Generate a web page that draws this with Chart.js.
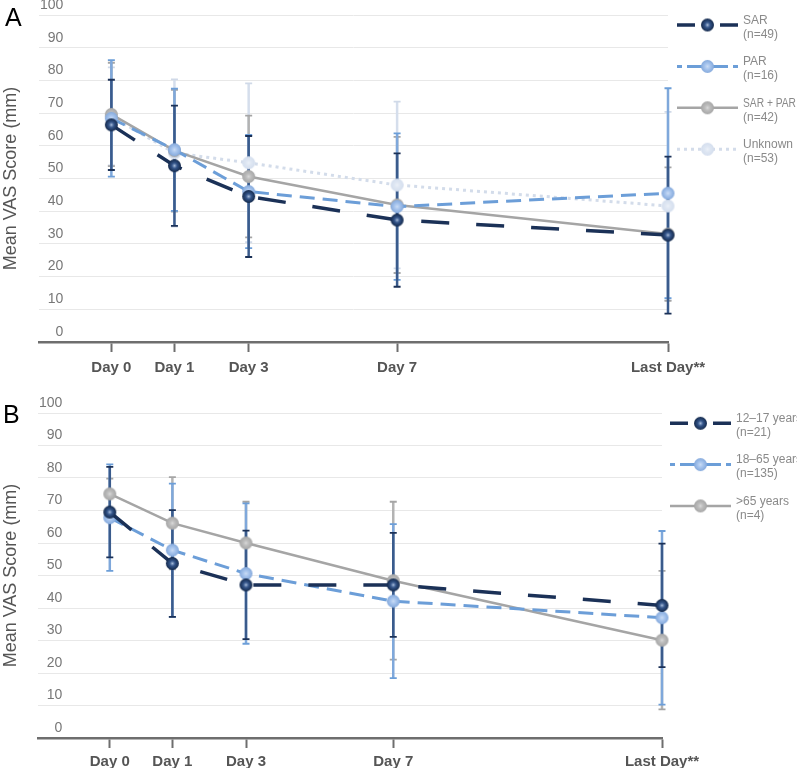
<!DOCTYPE html>
<html>
<head>
<meta charset="utf-8">
<title>Mean VAS Score</title>
<script src="https://cdn.jsdelivr.net/npm/chart.js@4"></script>
<style>
    body { margin: 0; background: #fff; }
    .panel { position: absolute; left: 0; width: 797px; height: 384px; }
</style>
</head>
<body>
<div style="position:relative;width:797px;height:768px;">
    <div class="panel" style="top:0;"><canvas id="chartA" width="797" height="384"></canvas></div>
    <div class="panel" style="top:384px;"><canvas id="chartB" width="797" height="384"></canvas></div>
</div>
<script>
// x axis: time points and where they sit on the axis
const dayLabels = ['Day 0', 'Day 1', 'Day 3', 'Day 7', 'Last Day**'];
const dayPositions = [0, 1.7, 3.7, 7.7, 15];
const vasTicks = [0, 10, 20, 30, 40, 50, 60, 70, 80, 90, 100];

// Panel A - by rhinitis type
const namesA = ['SAR', 'PAR', 'SAR + PAR', 'Unknown'];
const countsA = ['(n=49)', '(n=16)', '(n=42)', '(n=53)'];
const sarMean = [66.4, 53.9, 44.5, 37.3, 32.7];
const sarSd = [13.8, 18.4, 18.5, 20.4, 24.0];
const parMean = [68.4, 58.8, 46.0, 41.4, 45.5];
const parSd = [17.8, 18.7, 17.3, 22.4, 32.1];
const sarParMean = [69.6, 58.5, 50.6, 41.9, 33.0];
const sarParSd = [15.8, 18.6, 18.6, 20.8, 20.4];
const unknownMean = [69.0, 57.8, 54.8, 48.0, 41.6];
const unknownSd = [15.0, 22.5, 24.3, 25.5, 28.8];

// Panel B - by age group
const namesB = ['12\u201317 years', '18\u201365 years', '>65 years'];
const countsB = ['(n=21)', '(n=135)', '(n=4)'];
const teenMean = [69.5, 53.7, 47.1, 47.1, 40.8];
const teenSd = [13.9, 16.4, 16.7, 16.0, 19.0];
const adultMean = [67.8, 57.8, 50.6, 42.1, 37.0];
const adultSd = [16.4, 20.5, 21.6, 23.7, 26.7];
const seniorMean = [75.1, 66.1, 60.0, 48.4, 30.1];
const seniorSd = [4.7, 14.2, 12.7, 24.3, 21.3];

const FONT = '"Liberation Sans", Arial, sans-serif';
Chart.defaults.font.family = FONT;

// small shaded ball used as the point marker
function makeBall(r, edge, body, glow) {
    const c = document.createElement('canvas');
    c.width = c.height = Math.ceil(r * 2 + 2);
    const g = c.getContext('2d');
    const cx = c.width / 2;
    const grad = g.createRadialGradient(cx, cx, 0, cx, cx, r);
    grad.addColorStop(0, glow);
    grad.addColorStop(0.4, body);
    grad.addColorStop(1, edge);
    g.fillStyle = grad;
    g.beginPath();
    g.arc(cx, cx, r, 0, Math.PI * 2);
    g.fill();
    return c;
}

const seriesStyles = {
    dark: { line: '#1b3157', width: 3.5, dash: [28, 27], legendDash: [18, 25], err: '#3a5b8c', cap: '#1b3157',
            ball: makeBall(6.5, '#13284a', '#34558a', '#a7bcdb') },
    blue: { line: '#6c9ed8', width: 3, dash: [15, 8], legendDash: [5, 5, 41, 5, 5], err: '#7fa8db', cap: '#6c9ed8',
            ball: makeBall(6.5, '#84a9dc', '#a9c6ee', '#cadcf5') },
    grey: { line: '#a5a5a5', width: 2.5, dash: [], legendDash: [], err: '#b3b3b3', cap: '#a5a5a5',
            ball: makeBall(6.5, '#a6a6a6', '#bdbdbd', '#d9d9d9') },
    pale: { line: '#d3dcea', width: 3, dash: [3, 4], legendDash: [3, 4], err: '#d5deec', cap: '#d0d9e8',
            ball: makeBall(6.5, '#d4deee', '#dfe7f3', '#ebf0f8') }
};

function buildDatasets(names, counts, means, sds, styles) {
    return names.map((name, i) => {
        const st = seriesStyles[styles[i]];
        return {
            label: name,
            count: counts[i],
            data: dayPositions.map((x, j) => ({ x: x, y: means[i][j] })),
            errors: sds[i],
            borderColor: st.line,
            borderWidth: st.width,
            borderDash: st.dash,
            legendDash: st.legendDash,
            errColor: st.err,
            capColor: st.cap,
            pointStyle: st.ball,
            pointRadius: 6.5,
            clip: false,
            tension: 0,
            fill: false
        };
    });
}

// error bars drawn under the lines, back series first
const errorBars = {
    id: 'errorBars',
    beforeDatasetsDraw(chart) {
        const ctx = chart.ctx;
        const xs = chart.scales.x, ys = chart.scales.y;
        for (let i = chart.data.datasets.length - 1; i >= 0; i--) {
            const ds = chart.data.datasets[i];
            ds.data.forEach((pt, j) => {
                const px = xs.getPixelForValue(pt.x);
                const top = ys.getPixelForValue(pt.y + ds.errors[j]);
                const bot = ys.getPixelForValue(pt.y - ds.errors[j]);
                ctx.save();
                ctx.strokeStyle = ds.errColor;
                ctx.lineWidth = 2.5;
                ctx.beginPath();
                ctx.moveTo(px, top);
                ctx.lineTo(px, bot);
                ctx.stroke();
                ctx.strokeStyle = ds.capColor;
                ctx.lineWidth = 1.8;
                ctx.beginPath();
                ctx.moveTo(px - 3.5, top); ctx.lineTo(px + 3.5, top);
                ctx.moveTo(px - 3.5, bot); ctx.lineTo(px + 3.5, bot);
                ctx.stroke();
                ctx.restore();
            });
        }
    }
};

// legend on the right: line sample with ball, name and n on two lines
const sideLegend = {
    id: 'sideLegend',
    afterDraw(chart, args, opts) {
        const ctx = chart.ctx;
        const area = chart.chartArea;
        const x0 = area.right + opts.gap;
        const tx = x0 + opts.sample + 5;
        chart.data.datasets.forEach((ds, i) => {
            const y = area.top + opts.firstY + i * opts.step;
            ctx.save();
            ctx.strokeStyle = ds.borderColor;
            ctx.lineWidth = ds.borderWidth;
            ctx.setLineDash(ds.legendDash);
            ctx.beginPath();
            ctx.moveTo(x0, y);
            ctx.lineTo(x0 + opts.sample, y);
            ctx.stroke();
            const img = ds.pointStyle;
            ctx.drawImage(img, x0 + opts.sample / 2 - img.width / 2, y - img.height / 2);
            ctx.fillStyle = '#8a8a8a';
            ctx.font = '12px ' + FONT;
            ctx.textBaseline = 'middle';
            ctx.textAlign = 'left';
            if (opts.fitText) {
                ctx.fillText(ds.label, tx, y - 4.5, chart.width - tx - 1);
            } else {
                ctx.fillText(ds.label, tx, y - 4.5);
            }
            ctx.fillText(ds.count, tx, y + 9.5);
            ctx.restore();
        });
        // panel letter
        ctx.save();
        ctx.fillStyle = '#000';
        ctx.font = '25px ' + FONT;
        ctx.textBaseline = 'middle';
        ctx.fillText(opts.letter, opts.letterX, opts.letterY);
        ctx.restore();
    }
};

function makePanel(canvasId, datasets, layout) {
    return new Chart(document.getElementById(canvasId), {
        type: 'line',
        data: { datasets: datasets },
        options: {
            responsive: false,
            animation: false,
            events: [],
            layout: { padding: { top: layout.top, right: layout.right, left: 0, bottom: 0 } },
            plugins: {
                legend: { display: false },
                tooltip: { enabled: false },
                sideLegend: layout.legend
            },
            scales: {
                x: {
                    type: 'linear',
                    min: -1.95,
                    max: 15,
                    afterBuildTicks: (scale) => { scale.ticks = dayPositions.map(v => ({ value: v })); },
                    afterFit: (scale) => { scale.height = layout.xHeight; },
                    ticks: {
                        callback: (value, index) => dayLabels[index],
                        color: '#555',
                        font: { size: 15, weight: 'bold' },
                        padding: layout.xPad,
                        maxRotation: 0,
                        autoSkip: false
                    },
                    grid: { drawOnChartArea: false, drawTicks: true, tickLength: 10, tickColor: '#6e6e6e', tickWidth: 2 },
                    border: { display: true, color: '#6e6e6e', width: 2.5 }
                },
                y: {
                    min: 0,
                    max: 100,
                    afterBuildTicks: (scale) => { scale.ticks = vasTicks.map(v => ({ value: v })); },
                    afterFit: (scale) => { scale.width = layout.yWidth; },
                    ticks: {
                        mirror: true,
                        crossAlign: 'far',
                        padding: 1,
                        labelOffset: -10,
                        color: '#777',
                        font: { size: 14 }
                    },
                    grid: { color: '#e8e8e8', lineWidth: 1, drawTicks: false },
                    border: { display: false },
                    title: {
                        display: true,
                        text: 'Mean VAS Score (mm)',
                        color: '#555',
                        font: { size: 18 },
                        padding: 0
                    }
                }
            }
        },
        plugins: [errorBars, sideLegend]
    });
}

makePanel('chartA',
    buildDatasets(namesA, countsA,
        [sarMean, parMean, sarParMean, unknownMean],
        [sarSd, parSd, sarParSd, unknownSd],
        ['dark', 'blue', 'grey', 'pale']),
    { top: 15, right: 129, xHeight: 42, yWidth: 39, xPad: 7,
      legend: { gap: 9, sample: 61, firstY: 10, step: 41.4, fitText: true, letter: 'A', letterX: 5, letterY: 19 } });

makePanel('chartB',
    buildDatasets(namesB, countsB,
        [teenMean, adultMean, seniorMean],
        [teenSd, adultSd, seniorSd],
        ['dark', 'blue', 'grey']),
    { top: 29, right: 135, xHeight: 30, yWidth: 38, xPad: 5,
      legend: { gap: 8, sample: 61, firstY: 10.3, step: 41.3, fitText: false, letter: 'B', letterX: 3, letterY: 32 } });
</script>
</body>
</html>
